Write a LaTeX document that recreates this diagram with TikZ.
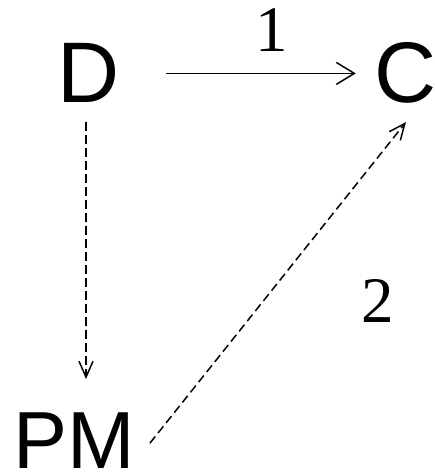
\documentclass[tikz,border=0pt]{standalone}
\usepackage{fontspec}
\setmainfont{Liberation Serif}
\setsansfont{Liberation Sans}
\usetikzlibrary{arrows.meta}
\begin{document}
\begin{tikzpicture}[x=1pt,y=1pt,
  letter/.style={inner sep=0pt,anchor=base,font=\sffamily\fontsize{86}{86}\selectfont},
  num/.style={inner sep=0pt,anchor=base,font=\rmfamily\fontsize{65}{65}\selectfont},
  solidarrow/.style={line width=1.5pt,-{Straight Barb[length=18pt,width=22pt,line width=1.5pt]}},
  dasharrow/.style={line width=1.5pt,dash pattern=on 8.5pt off 4.5pt,-{Straight Barb[length=16pt,width=14pt,line width=1.5pt]}}]
\useasboundingbox (0,0) rectangle (435,473);
\node[letter] (D) at (89,370) {D};
\node[letter] (C) at (406,370) {C};
\node[letter,font=\sffamily\fontsize{81}{81}\selectfont] (PM) at (74,5) {PM};
\node[num] (n1) at (272,421) {1};
\node[num] (n2) at (378,150) {2};
\draw[solidarrow,shorten <=46pt,shorten >=19pt] (D.east) -- (D.east -| C.west);
\draw[dasharrow,shorten <=19pt,shorten >=33pt] ([xshift=-3pt]D.south) -- ([xshift=12pt]PM.north);
\draw[dasharrow] ([xshift=15pt,yshift=-3pt]PM.east) -- ([yshift=-18pt]C.south);
\end{tikzpicture}
\end{document}
